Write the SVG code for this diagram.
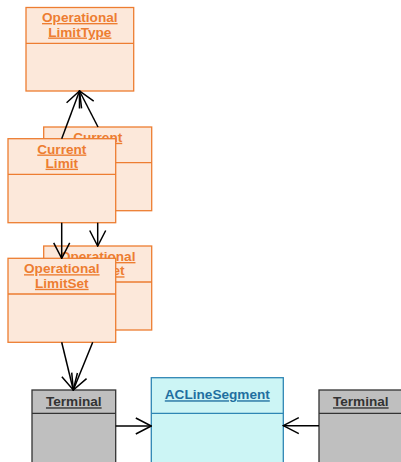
<svg xmlns="http://www.w3.org/2000/svg" width="401" height="462" viewBox="0 0 401 462">
<defs>
<marker id="open" viewBox="-17 -9 18 18" refX="0" refY="0" markerWidth="18" markerHeight="18" markerUnits="userSpaceOnUse" orient="auto">
<path d="M -15.5 -8 L 0 0 L -15.5 8" fill="none" stroke="#000" stroke-width="1.5"/>
</marker>
<clipPath id="clipCL2"><path d="M43.7 127 H151.7 V138.7 H115.7 V127 Z M115.7 127 H151.7 V210.7 H115.7 Z"/></clipPath>
<clipPath id="clipOLS2"><path d="M43.7 246 H151.7 V258.3 H43.7 Z M115.7 246 H151.7 V330 H115.7 Z"/></clipPath>
</defs>
<style>
.o rect{fill:#FCE8DA;stroke:#ED7D31;stroke-width:1.3}
.o line{stroke:#ED7D31;stroke-width:1.3}
.o text{fill:#ED7D31}
.g rect{fill:#BFBFBF;stroke:#333;stroke-width:1.3}
.g line{stroke:#333;stroke-width:1.3}
.g text{fill:#333}
.c rect{fill:#CCF5F5;stroke:#2E86B4;stroke-width:1.3}
.c line{stroke:#2E86B4;stroke-width:1.3}
.c text{fill:#1F6FA0}
text{font-family:"Liberation Sans",Arial,sans-serif;font-weight:bold;font-size:13.6px;text-anchor:middle;text-decoration:underline}
.e{fill:none;stroke:#000;stroke-width:1.5}
</style>
<g id="OperationalLimitType" class="o">
<rect x="26" y="7.5" width="107.7" height="83.5"/>
<line x1="26" y1="43.3" x2="133.7" y2="43.3"/>
<text x="79.8" y="22">Operational</text>
<text x="79.8" y="36.5">LimitType</text>
</g>
<g id="CurrentLimit2" class="o">
<rect x="43.7" y="127" width="108" height="83.7"/>
<line x1="43.7" y1="162.7" x2="151.7" y2="162.7"/>
<text x="97.7" y="141.8">Current</text>
</g>
<g id="CurrentLimit" class="o">
<rect x="8" y="138.7" width="107.7" height="84"/>
<line x1="8" y1="174.3" x2="115.7" y2="174.3"/>
<text x="61.8" y="153.5">Current</text>
<text x="61.8" y="167.7">Limit</text>
</g>
<g id="OperationalLimitSet2" class="o">
<rect x="43.7" y="246" width="108" height="84"/>
<line x1="43.7" y1="282" x2="151.7" y2="282"/>
<text x="97.7" y="261">Operational</text>
<text x="97.7" y="275.3" clip-path="url(#clipOLS2)">LimitSet</text>
</g>
<g id="OperationalLimitSet" class="o">
<rect x="8" y="258.3" width="107.7" height="84"/>
<line x1="8" y1="294" x2="115.7" y2="294"/>
<text x="61.8" y="273.2">Operational</text>
<text x="61.8" y="287.8">LimitSet</text>
</g>
<g id="Terminal" class="g">
<rect x="32" y="390" width="83.7" height="80"/>
<line x1="32" y1="413.3" x2="115.7" y2="413.3"/>
<text x="73.8" y="406.3">Terminal</text>
</g>
<g id="ACLineSegment" class="c">
<rect x="151.3" y="377.7" width="132" height="92"/>
<line x1="151.3" y1="413.3" x2="283.3" y2="413.3"/>
<text x="217.3" y="399.3">ACLineSegment</text>
</g>
<g id="Terminal2" class="g">
<rect x="319" y="390" width="83.7" height="80"/>
<line x1="319" y1="413.3" x2="402.7" y2="413.3"/>
<text x="360.8" y="406.3">Terminal</text>
</g>
<g id="connectors">
<line class="e" x1="61.7" y1="138.7" x2="79.5" y2="91" marker-end="url(#open)"/>
<line class="e" x1="98" y1="127" x2="79.5" y2="91" marker-end="url(#open)"/>
<line class="e" x1="61.7" y1="222.7" x2="61.7" y2="258.3" marker-end="url(#open)"/>
<line class="e" x1="97.7" y1="222.7" x2="97.7" y2="246" marker-end="url(#open)"/>
<line class="e" x1="61.7" y1="342.3" x2="73.3" y2="390" marker-end="url(#open)"/>
<line class="e" x1="92.7" y1="342.3" x2="73.3" y2="390" marker-end="url(#open)"/>
<line class="e" x1="115.7" y1="426" x2="151.3" y2="426" marker-end="url(#open)"/>
<line class="e" x1="319" y1="425.7" x2="283.3" y2="425.7" marker-end="url(#open)"/>
</g>
</svg>
